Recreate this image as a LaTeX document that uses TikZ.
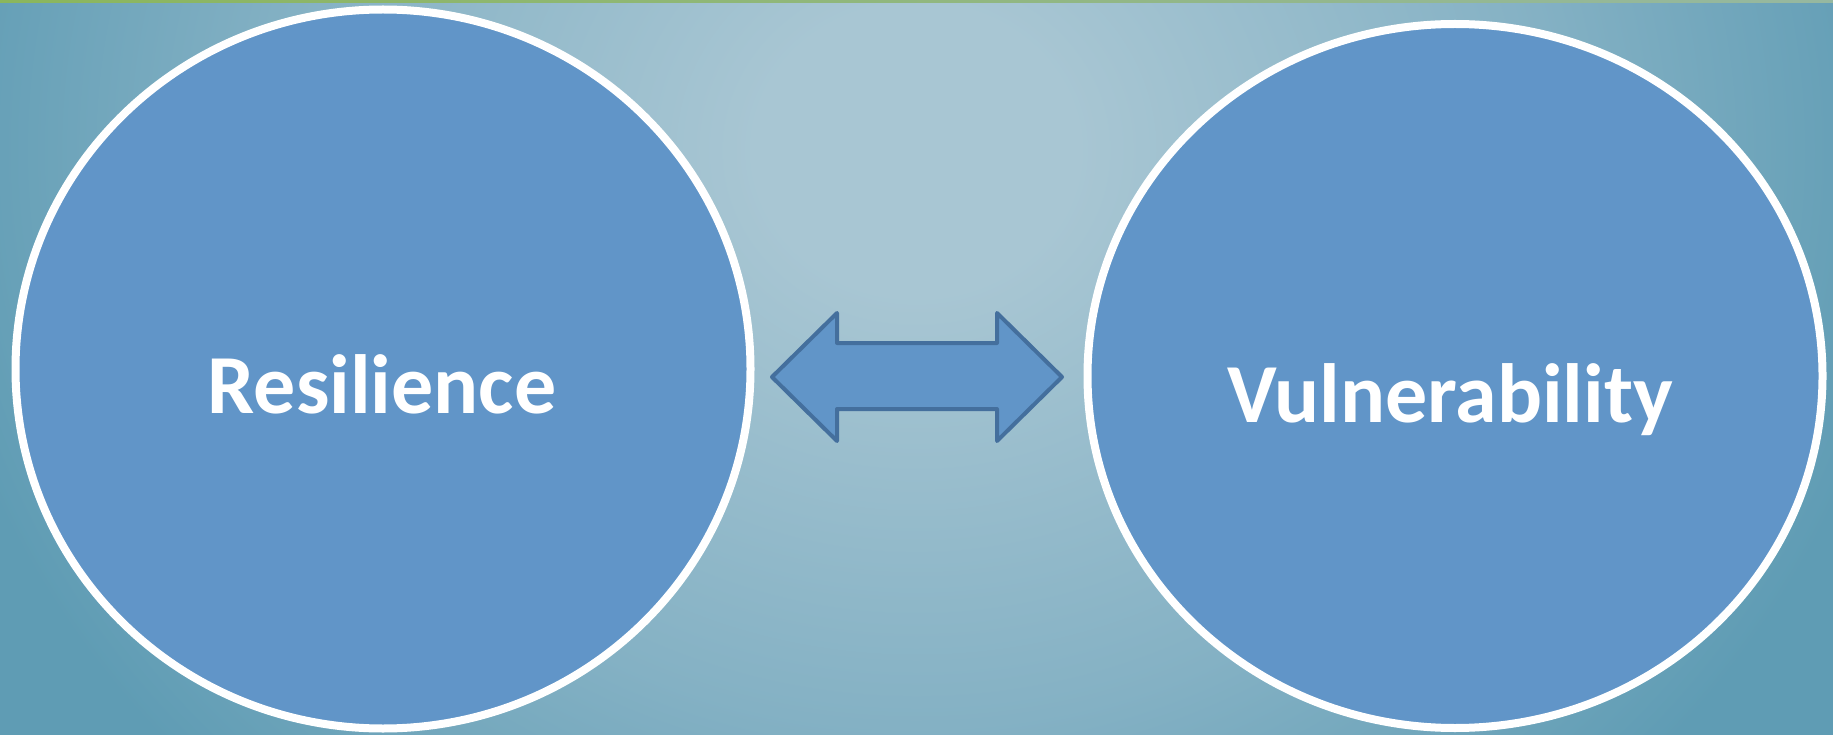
\documentclass[tikz,border=0pt]{standalone}
\usepackage{fontspec}
\setmainfont{Carlito}
\usetikzlibrary{
  calc,
  positioning,
  shadows,
  shapes.geometric,
}
\definecolor{bgin}{RGB}{168,198,211}
\definecolor{bgmid}{RGB}{132,177,196}
\definecolor{bgout}{RGB}{95,156,180}
\definecolor{bubblefill}{RGB}{97,149,200}
\definecolor{arrowline}{RGB}{68,111,157}
\definecolor{barleft}{RGB}{139,182,92}
\definecolor{barright}{RGB}{150,184,160}
\pgfdeclareradialshading{backglow}{\pgfpoint{0bp}{0bp}}{%
  color(0bp)=(bgin); color(4bp)=(bgin); color(16bp)=(bgmid);
  color(25bp)=(bgout); color(50bp)=(bgout)}
\tikzset{
  bubble/.style={ellipse, draw=white, line width=8pt, fill=bubblefill,
    inner sep=0pt, minimum width=735pt,
    drop shadow={opacity=0.35, shadow xshift=0pt, shadow yshift=-3pt}},
  word/.style={text=white, font=\fontsize{84}{90}\selectfont\bfseries,
    inner sep=0pt, anchor=base},
  twoway/.style={draw=arrowline, fill=bubblefill, line width=4pt,
    line join=round},
}

\begin{document}
\begin{tikzpicture}[x=1pt, y=-1pt]
  \useasboundingbox (0,0) rectangle (1833,735);
  \begin{scope}
    \clip (0,0) rectangle (1833,735);
    \shade[shading=backglow] (-84,-750) rectangle (1916,1050);
    \shade[left color=barleft, right color=barright] (0,0) rectangle (1833,3);
  \end{scope}

  \node [bubble, minimum height=719pt] (res) at (383,369) {};
  \node [bubble, minimum height=704pt] (vul) at (1455,376) {};

  \node [word] (restext) at (382,413) {Resilience};
  \node [word] (vultext) at (1450,422) {Vulnerability};

  % two-way arrow between the bubbles
  \draw [twoway] (772,377) -- (837,313) -- (837,343) -- (997,343)
    -- (997,313) -- (1062,377) -- (997,441) -- (997,409)
    -- (837,409) -- (837,441) -- cycle;
\end{tikzpicture}
\end{document}
